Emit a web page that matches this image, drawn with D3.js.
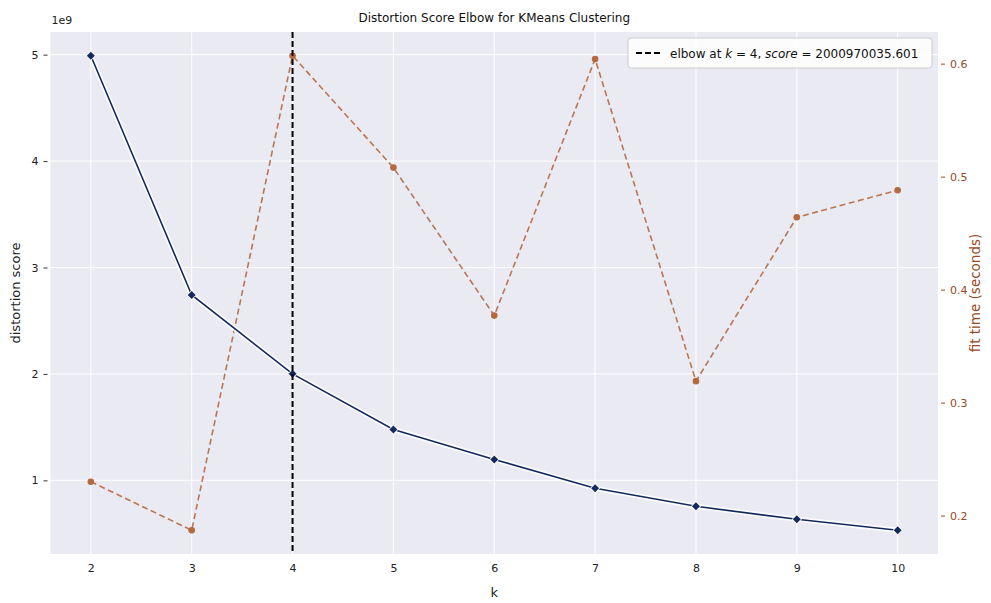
<!DOCTYPE html>
<html><head><meta charset="utf-8">
<script src="https://cdn.jsdelivr.net/npm/d3@7"></script>
<style>
html,body{margin:0;padding:0;background:#fff;}
svg{display:block;font-family:"DejaVu Sans",sans-serif;}
</style></head>
<body>
<svg id="chart" width="991" height="603"></svg>
<script>
const kValues = [2, 3, 4, 5, 6, 7, 8, 9, 10];
const distortion = [4.99e9, 2.742e9, 2.00097e9, 1.478e9, 1.197e9, 0.925e9, 0.756e9, 0.634e9, 0.531e9];
const fitTime = [0.230, 0.187, 0.607, 0.508, 0.377, 0.604, 0.319, 0.464, 0.488];
const xTicks = [2, 3, 4, 5, 6, 7, 8, 9, 10];
const yLeftTicks = [1, 2, 3, 4, 5];
const yRightTicks = [0.2, 0.3, 0.4, 0.5, 0.6];
const elbowK = 4;
const elbowScore = "2000970035.601";

const svg = d3.select("#chart");
const L = 50.5, R = 938, T = 32, B = 554;

function padded(arr){const mn=d3.min(arr),mx=d3.max(arr),p=(mx-mn)*0.05;return [mn-p,mx+p];}
const x = d3.scaleLinear().domain([1.6, 10.4]).range([L, R]);
const yL = d3.scaleLinear().domain(padded(distortion)).range([B, T]);
const yR = d3.scaleLinear().domain(padded(fitTime)).range([B, T]);

svg.append("rect").attr("x", L).attr("y", T).attr("width", R - L).attr("height", B - T).attr("fill", "#eaeaf2");

const grid = svg.append("g").attr("stroke", "#fff").attr("stroke-width", 1);
xTicks.forEach(t => grid.append("line").attr("x1", x(t)).attr("x2", x(t)).attr("y1", T).attr("y2", B));
yLeftTicks.forEach(t => grid.append("line").attr("x1", L).attr("x2", R).attr("y1", yL(t*1e9)).attr("y2", yL(t*1e9)));

// x axis
const xAxis = svg.append("g").attr("transform", `translate(0,${B})`)
  .call(d3.axisBottom(x).tickValues(xTicks).tickSize(0).tickPadding(10).tickFormat(d3.format("d")));
xAxis.select(".domain").remove();
xAxis.selectAll("text").attr("font-size", 11).attr("fill", "#222").attr("font-family", "DejaVu Sans");

// left axis
const yAxisL = svg.append("g").attr("transform", `translate(${L},0)`)
  .call(d3.axisLeft(yL).tickValues(yLeftTicks.map(v => v*1e9)).tickSize(4).tickPadding(8).tickFormat(d => d3.format("d")(d/1e9)));
yAxisL.select(".domain").remove();
yAxisL.selectAll("line").attr("stroke", "#333").attr("transform", "translate(-3,0)");
yAxisL.selectAll("text").attr("font-size", 11).attr("fill", "#222").attr("font-family", "DejaVu Sans");

// right axis
const rColor = "#9a4a22";
const yAxisR = svg.append("g").attr("transform", `translate(${R},0)`)
  .call(d3.axisRight(yR).tickValues(yRightTicks).tickSize(4).tickPadding(8).tickFormat(d3.format(".1f")));
yAxisR.select(".domain").remove();
yAxisR.selectAll("line").attr("stroke", rColor).attr("transform", "translate(3,0)");
yAxisR.selectAll("text").attr("font-size", 11).attr("fill", rColor).attr("font-family", "DejaVu Sans");

svg.append("text").attr("x", L + 1).attr("y", 24).attr("font-size", 11).attr("fill", "#222").text("1e9");

// labels
svg.append("text").attr("x", (L + R) / 2).attr("y", 22).attr("text-anchor", "middle").attr("font-size", 12).attr("fill", "#111").text("Distortion Score Elbow for KMeans Clustering");
svg.append("text").attr("x", (L + R) / 2).attr("y", 597).attr("text-anchor", "middle").attr("font-size", 13).attr("fill", "#222").text("k");
svg.append("text").attr("transform", `translate(20,${(T + B) / 2}) rotate(-90)`).attr("text-anchor", "middle").attr("font-size", 13).attr("fill", "#222").text("distortion score");
svg.append("text").attr("transform", `translate(980,${(T + B) / 2}) rotate(-90)`).attr("text-anchor", "middle").attr("font-size", 13.5).attr("fill", rColor).text("fit time (seconds)");

// fit time line (dashed)
const fitLine = d3.line().x((d, i) => x(kValues[i])).y(d => yR(d));
const fg = svg.append("g");
fg.append("path").datum(fitTime).attr("d", fitLine).attr("fill", "none").attr("stroke", "#b5693f").attr("stroke-width", 1.6).attr("stroke-dasharray", "6,3.5").attr("opacity", 0.9);
fg.selectAll("circle").data(fitTime).join("circle").attr("cx", (d, i) => x(kValues[i])).attr("cy", d => yR(d)).attr("r", 3.3).attr("fill", "#b5693f");

// distortion line with white halo
const distLine = d3.line().x((d, i) => x(kValues[i])).y(d => yL(d));
const dg = svg.append("g");
dg.append("path").datum(distortion).attr("d", distLine).attr("fill", "none").attr("stroke", "#fff").attr("stroke-width", 5).attr("stroke-linejoin", "round").attr("opacity", 0.9);
dg.append("path").datum(distortion).attr("d", distLine).attr("fill", "none").attr("stroke", "#14295c").attr("stroke-width", 1.6);
const diamond = d3.symbol().type(d3.symbolSquare).size(32);
dg.selectAll("path.m").data(distortion).join("path").attr("class", "m").attr("d", diamond)
  .attr("transform", (d, i) => `translate(${x(kValues[i])},${yL(d)}) rotate(45)`).attr("fill", "#14295c").attr("stroke", "#fff").attr("stroke-width", 1.5).attr("paint-order", "stroke");

// elbow line
svg.append("line").attr("x1", x(elbowK)).attr("x2", x(elbowK)).attr("y1", T).attr("y2", B).attr("stroke", "#000").attr("stroke-width", 2).attr("stroke-dasharray", "6,3");

// legend
const lg = svg.append("g");
lg.append("rect").attr("x", 628).attr("y", 38).attr("width", 304).attr("height", 30).attr("rx", 3).attr("fill", "#fff").attr("fill-opacity", 0.85).attr("stroke", "#ccc");
lg.append("line").attr("x1", 636).attr("x2", 662).attr("y1", 53).attr("y2", 53).attr("stroke", "#000").attr("stroke-width", 2).attr("stroke-dasharray", "6,3");
const lt = lg.append("text").attr("x", 670).attr("y", 57.5).attr("font-size", 12).attr("fill", "#111");
lt.append("tspan").text("elbow at ");
lt.append("tspan").attr("font-style", "italic").text("k");
lt.append("tspan").text(" = " + elbowK + ", ");
lt.append("tspan").attr("font-style", "italic").text("score");
lt.append("tspan").text(" = " + elbowScore);
</script>
</body></html>
